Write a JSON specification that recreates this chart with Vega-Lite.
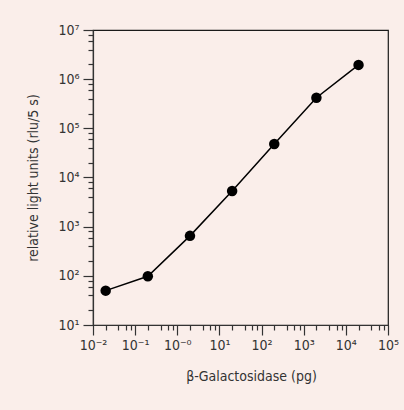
{
  "$schema": "https://vega.github.io/schema/vega-lite/v6.json",
  "width": 295,
  "height": 295,
  "autosize": {"type": "none"},
  "padding": {"left": 93, "top": 30, "right": 16, "bottom": 85},
  "background": "#FAEEEA",
  "config": {
    "view": {"stroke": "#1a1a1a", "strokeWidth": 1.2, "fill": "#FAEEEA"},
    "font": "'DejaVu Sans Condensed', 'Liberation Sans', sans-serif",
    "axis": {"grid": false}
  },
  "data": {
    "values": [
      {"pg": 0.02, "rlu": 50},
      {"pg": 0.2, "rlu": 98},
      {"pg": 2, "rlu": 650},
      {"pg": 20, "rlu": 5300},
      {"pg": 200, "rlu": 48000},
      {"pg": 2000, "rlu": 420000},
      {"pg": 20000, "rlu": 1950000}
    ]
  },
  "resolve": {"axis": {"x": "independent", "y": "independent"}},
  "layer": [
    {
      "mark": {"type": "line", "color": "#000000", "strokeWidth": 1.5},
      "encoding": {
        "x": {
          "field": "pg", "type": "quantitative",
          "scale": {"type": "log", "domain": [0.01, 100000], "nice": false},
          "axis": {
            "orient": "bottom",
            "values": [0.01, 0.1, 1, 10, 100, 1000, 10000, 100000],
            "labelExpr": "'10' + ['⁻²','⁻¹','⁻⁰','¹','²','³','⁴','⁵'][round(log(datum.value)/LN10)+2]",
            "tickSize": 10, "tickWidth": 1.2, "tickColor": "#333333",
            "domainColor": "#333333", "domainWidth": 1.2,
            "labelFontSize": 14, "labelColor": "#333333", "labelPadding": 3,
            "labelFlush": false, "labelOverlap": false,
            "title": "β-Galactosidase (pg)", "titleFontSize": 14, "titleFontWeight": "normal",
            "titleColor": "#333333", "titlePadding": 17, "titleX": 158
          }
        },
        "y": {
          "field": "rlu", "type": "quantitative",
          "scale": {"type": "log", "domain": [10, 10000000], "nice": false},
          "axis": {
            "orient": "left",
            "values": [10, 100, 1000, 10000, 100000, 1000000, 10000000],
            "labelExpr": "'10' + ['¹','²','³','⁴','⁵','⁶','⁷'][round(log(datum.value)/LN10)-1]",
            "tickSize": 10, "tickWidth": 1.2, "tickColor": "#333333",
            "domainColor": "#333333", "domainWidth": 1.2,
            "labelFontSize": 14, "labelColor": "#333333", "labelPadding": 4,
            "labelFlush": false, "labelOverlap": false,
            "title": "relative light units (rlu/5 s)", "titleFontSize": 14, "titleFontWeight": "normal",
            "titleColor": "#333333", "titlePadding": 17
          }
        }
      }
    },
    {
      "mark": {"type": "point", "filled": true, "color": "#000000", "size": 110, "opacity": 1},
      "encoding": {
        "x": {
          "field": "pg", "type": "quantitative",
          "scale": {"type": "log", "domain": [0.01, 100000], "nice": false},
          "axis": {
            "orient": "bottom",
            "values": [0.02, 0.04, 0.06, 0.08, 0.2, 0.4, 0.6, 0.8, 2, 4, 6, 8, 20, 40, 60, 80, 200, 400, 600, 800, 2000, 4000, 6000, 8000, 20000, 40000, 60000, 80000],
            "labels": false, "domain": false, "title": null,
            "tickSize": 5, "tickWidth": 1.2, "tickColor": "#333333"
          }
        },
        "y": {
          "field": "rlu", "type": "quantitative",
          "scale": {"type": "log", "domain": [10, 10000000], "nice": false},
          "axis": {
            "orient": "left",
            "values": [20, 40, 60, 80, 200, 400, 600, 800, 2000, 4000, 6000, 8000, 20000, 40000, 60000, 80000, 200000, 400000, 600000, 800000, 2000000, 4000000, 6000000, 8000000],
            "labels": false, "domain": false, "title": null,
            "tickSize": 5, "tickWidth": 1.2, "tickColor": "#333333"
          }
        }
      }
    }
  ]
}
